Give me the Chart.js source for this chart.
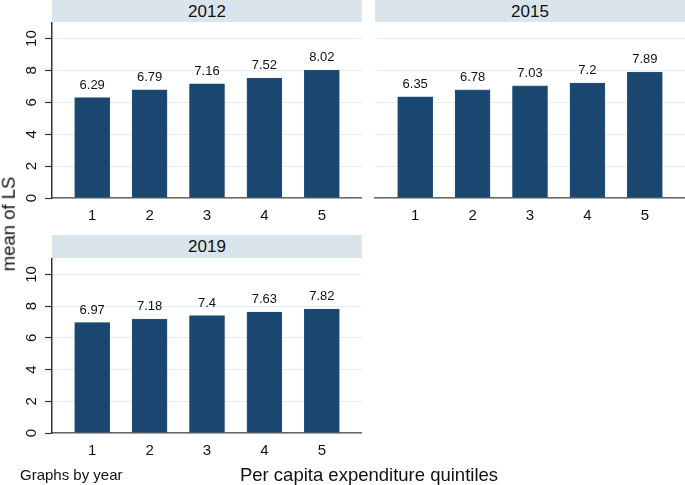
<!DOCTYPE html>
<html>
<head>
<meta charset="utf-8">
<script src="https://cdn.jsdelivr.net/npm/chart.js@4/dist/chart.umd.min.js"></script>
<style>
  html,body{margin:0;padding:0;background:#fff;}
  #wrap{position:relative;width:685px;height:485px;overflow:hidden;font-family:"Liberation Sans",Arial,sans-serif;}
  canvas{position:absolute;}
  .hdr{position:absolute;background:#d9e5eb;color:#111;font-size:17px;text-align:center;}
  .txt{position:absolute;color:#111;white-space:nowrap;line-height:1;}
</style>
</head>
<body>
<div id="wrap">
  <div class="hdr" id="h1" style="left:52px;top:0px;width:310px;height:22px;line-height:23px;"></div>
  <div class="hdr" id="h2" style="left:375px;top:0px;width:310px;height:22px;line-height:23px;"></div>
  <div class="hdr" id="h3" style="left:52px;top:235px;width:310px;height:23px;line-height:24px;"></div>
  <div style="position:absolute;left:0;top:22px;width:362px;height:210px;"><canvas id="c1"></canvas></div>
  <div style="position:absolute;left:362px;top:22px;width:323px;height:210px;"><canvas id="c2"></canvas></div>
  <div style="position:absolute;left:0;top:258px;width:362px;height:209px;"><canvas id="c3"></canvas></div>
  <div class="txt" id="ytitle" style="left:9px;top:224px;font-size:18.5px;transform:translate(-50%,-50%) rotate(-90deg);">mean of LS</div>
  <div class="txt" id="note" style="left:20px;top:467px;font-size:15px;">Graphs by year</div>
  <div class="txt" id="xtitle" style="left:369px;top:466px;font-size:18.5px;transform:translateX(-50%);">Per capita expenditure quintiles</div>
</div>
<script>
const categories = [1, 2, 3, 4, 5];
const years = ["2012", "2015", "2019"];
const values2012 = [6.29, 6.79, 7.16, 7.52, 8.02];
const values2015 = [6.35, 6.78, 7.03, 7.2, 7.89];
const values2019 = [6.97, 7.18, 7.4, 7.63, 7.82];
const yTicks = [0, 2, 4, 6, 8, 10];
const labels2012 = ["6.29", "6.79", "7.16", "7.52", "8.02"];
const labels2015 = ["6.35", "6.78", "7.03", "7.2", "7.89"];
const labels2019 = ["6.97", "7.18", "7.4", "7.63", "7.82"];

document.getElementById('h1').textContent = years[0];
document.getElementById('h2').textContent = years[1];
document.getElementById('h3').textContent = years[2];

const FONT = '"Liberation Sans", Arial, sans-serif';
Chart.defaults.font.family = FONT;
Chart.defaults.animation = false;

const valueLabelPlugin = {
  id: 'valueLabels',
  afterDatasetsDraw(chart) {
    const ctx = chart.ctx;
    const meta = chart.getDatasetMeta(0);
    const lbls = chart.options.plugins.valueLabels.labels;
    ctx.save();
    ctx.font = '13px ' + FONT;
    ctx.fillStyle = '#111';
    ctx.textAlign = 'center';
    ctx.textBaseline = 'bottom';
    meta.data.forEach((bar, i) => {
      ctx.fillText(lbls[i], bar.x, bar.y - 6);
    });
    ctx.restore();
  }
};

const rotYTicksPlugin = {
  id: 'rotYTicks',
  afterDraw(chart) {
    if (!chart.options.plugins.rotYTicks.show) return;
    const ctx = chart.ctx;
    const ys = chart.scales.y;
    ctx.save();
    ctx.font = '15px ' + FONT;
    ctx.fillStyle = '#111';
    ctx.textAlign = 'center';
    ctx.textBaseline = 'middle';
    yTicks.forEach(v => {
      const py = ys.getPixelForValue(v);
      ctx.save();
      ctx.translate(32, py);
      ctx.rotate(-Math.PI / 2);
      ctx.fillText(String(v), 0, 0);
      ctx.restore();
    });
    ctx.restore();
  }
};

function makeChart(id, values, lbls, showY, yWidth) {
  const data = categories.map((c, i) => ({ x: c, y: values[i] }));
  return new Chart(document.getElementById(id), {
    type: 'bar',
    data: {
      datasets: [{
        data: data,
        backgroundColor: '#1a476f',
        borderColor: '#2c5680',
        borderWidth: 0.6,
        barThickness: 35
      }]
    },
    options: {
      responsive: true,
      maintainAspectRatio: false,
      layout: { padding: 0 },
      plugins: {
        legend: { display: false },
        tooltip: { enabled: false },
        valueLabels: { labels: lbls },
        rotYTicks: { show: showY }
      },
      scales: {
        x: {
          type: 'linear',
          offset: false,
          min: 0.3,
          max: 5.7,
          afterBuildTicks: s => { s.ticks = categories.map(v => ({ value: v })); },
          afterFit: s => { s.height = 34; },
          grid: { display: false, drawTicks: false, offset: false },
          border: { display: true, color: '#666', width: 1.5 },
          ticks: {
            color: '#111',
            font: { size: 15 },
            padding: 9,
            maxRotation: 0,
            minRotation: 0,
            callback: v => String(v)
          }
        },
        y: {
          min: 0,
          max: 11,
          afterBuildTicks: s => { s.ticks = yTicks.map(v => ({ value: v })); },
          afterFit: s => { s.width = yWidth; },
          grid: {
            color: '#e4eef2',
            lineWidth: 1,
            drawTicks: showY,
            tickLength: 7,
            tickColor: '#333',
            tickWidth: 1.2
          },
          border: { display: showY, color: '#333', width: 1.5 },
          ticks: {
            color: 'rgba(0,0,0,0)',
            font: { size: 1 },
            padding: 0
          }
        }
      }
    },
    plugins: [valueLabelPlugin, rotYTicksPlugin]
  });
}

makeChart('c1', values2012, labels2012, true, 52);
makeChart('c2', values2015, labels2015, false, 13);
makeChart('c3', values2019, labels2019, true, 52);
</script>
</body>
</html>
